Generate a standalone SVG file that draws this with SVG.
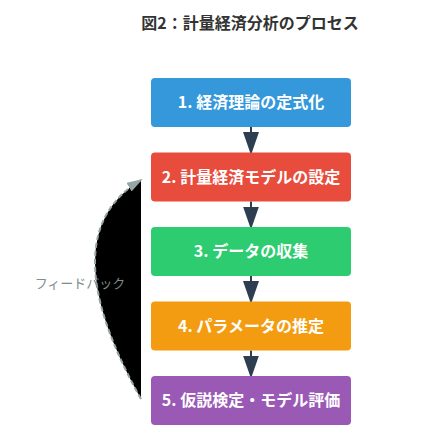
<svg xmlns="http://www.w3.org/2000/svg" width="441" height="441" viewBox="0 0 441 441">
<style>
.title{font-family:"Noto Sans CJK JP","Liberation Sans",sans-serif;font-size:16px;font-weight:bold;fill:#333333}
.lbl{font-family:"Noto Sans CJK JP","Liberation Sans",sans-serif;font-size:16px;font-weight:bold;fill:#ffffff}
.fb{font-family:"Noto Sans CJK JP","Liberation Sans",sans-serif;font-size:13px;fill:#7f8c8d}
.flow{stroke:#2c3e50;stroke-width:2;fill:none}
</style>
<defs>
<marker id="ah" markerUnits="userSpaceOnUse" markerWidth="24" markerHeight="18" refX="21" refY="8" orient="auto">
<path d="M0,0 L23,8 L0,16 z" fill="#2c3e50"/>
</marker>
<marker id="ahg" markerUnits="userSpaceOnUse" markerWidth="18" markerHeight="12" refX="14" refY="5" orient="auto">
<path d="M0,0 L16,5 L0,10 z" fill="#95a5a6"/>
</marker>
</defs>
<rect width="441" height="441" fill="#ffffff"/>
<text class="title" x="250" y="29" text-anchor="middle">図2：計量経済分析のプロセス</text>
<g id="connectors">
<line class="flow" x1="251" y1="127" x2="251" y2="153" marker-end="url(#ah)"/>
<line class="flow" x1="251" y1="201.5" x2="251" y2="227.5" marker-end="url(#ah)"/>
<line class="flow" x1="251" y1="276" x2="251" y2="302" marker-end="url(#ah)"/>
<line class="flow" x1="251" y1="350.5" x2="251" y2="376.5" marker-end="url(#ah)"/>
<path id="feedback" d="M141,399 Q49,235 141,180" stroke="#95a5a6" stroke-width="2" stroke-dasharray="5,3" marker-end="url(#ahg)"/>
</g>
<g id="n1"><rect x="151" y="78" width="200" height="49" rx="4" fill="#3498db"/><text class="lbl" x="251" y="108">1. 経済理論の定式化</text></g>
<g id="n2"><rect x="151" y="152.5" width="200" height="49" rx="4" fill="#e74c3c"/><text class="lbl" x="251" y="182.5">2. 計量経済モデルの設定</text></g>
<g id="n3"><rect x="151" y="227" width="200" height="49" rx="4" fill="#2ecc71"/><text class="lbl" x="251" y="257">3. データの収集</text></g>
<g id="n4"><rect x="151" y="301.5" width="200" height="49" rx="4" fill="#f39c12"/><text class="lbl" x="251" y="331.5">4. パラメータの推定</text></g>
<g id="n5"><rect x="151" y="376" width="200" height="49" rx="4" fill="#9b59b6"/><text class="lbl" x="251" y="406">5. 仮説検定・モデル評価</text></g>
<text id="fblabel" class="fb" x="80" y="288" text-anchor="middle">フィードバック</text>
<style>.lbl{text-anchor:middle}</style>
</svg>
